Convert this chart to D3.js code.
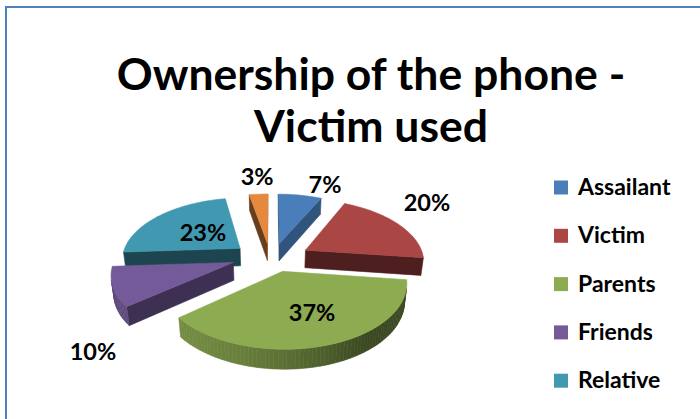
<!DOCTYPE html>
<html>
<head>
<meta charset="utf-8">
<script src="https://cdn.jsdelivr.net/npm/d3@7"></script>
<style>
  body { margin: 0; background: #fff; }
  svg { display: block; font-family: Lato, "Open Sans", sans-serif; }
</style>
</head>
<body>
<svg id="chart"></svg>
<script>
// chart values
let categories = ["Assailant", "Victim", "Parents", "Friends", "Relative", "Other"];
let values = [7, 20, 37, 10, 23, 3];
let titleLines = ["Ownership of the phone -", "Victim used"];

// look of the slices and where each label sits (degrees off the slice middle, times radius)
let colors = ["#4a7ebb", "#aa4744", "#8dab51", "#755a9a", "#4199b1", "#e5893f"];
let labelShift = [8.5, -5.1, -4.5, -24.4, -3.4, 0.3];
let labelRadius = [1.557, 1.848, 0.862, 1.747, 0.745, 1.663];

let width = 700, height = 419;
let pie3d = {cx: 271, cy: 257, r: 118, tilt: 31, dist: 650, explodeX: 40, explodeY: 28, depth: 21};

let svg = d3.select("#chart").attr("width", width).attr("height", height);

// chart area frame (only the top and left edges fall inside the picture)
svg.append("rect")
    .attr("x", 6).attr("y", 7)
    .attr("width", 740).attr("height", 460)
    .attr("fill", "none")
    .attr("stroke", "#4f81bd")
    .attr("stroke-width", 2);

svg.selectAll("text.title")
    .data(titleLines)
    .enter()
    .append("text")
    .attr("class", "title")
    .attr("x", 371)
    .attr("y", (d, i) => 90 + i * 52)
    .attr("text-anchor", "middle")
    .style("font-size", "44.5px")
    .style("font-weight", "bold")
    .text(d => d);

// simple perspective camera looking down at the pie
let sa = Math.sin(pie3d.tilt * Math.PI / 180),
    ca = Math.cos(pie3d.tilt * Math.PI / 180);
let camera = [0, -pie3d.dist * ca, pie3d.dist * sa];

function project(p) {
    let v = p[1] * sa + p[2] * ca,
        w = p[1] * ca - p[2] * sa,
        k = pie3d.dist / (pie3d.dist + w);
    return [pie3d.cx + p[0] * k, pie3d.cy - v * k];
}

function facing(normal, p) {
    return normal[0] * (camera[0] - p[0]) + normal[1] * (camera[1] - p[1]) + normal[2] * (camera[2] - p[2]) > 0;
}

function shade(color, f) {
    let c = d3.rgb(color);
    return d3.rgb(c.r * f, c.g * f, c.b * f).formatHex();
}

let wallLight = phi => 0.42 + 0.4 * Math.max(0, Math.cos(phi - 235 * Math.PI / 180));
let faceLight = phi => 0.45 + 0.25 * Math.pow(Math.max(0, Math.cos(phi - 100 * Math.PI / 180)), 4);

let arcs = d3.pie().sort(null).value(d => d)(values);

let slices = arcs.map(function (a, i) {
    let mid = (a.startAngle + a.endAngle) / 2;
    let ox = pie3d.explodeX * Math.sin(mid), oy = pie3d.explodeY * Math.cos(mid);
    let pt = (ang, r, z) => [ox + r * Math.sin(ang), oy + r * Math.cos(ang), z];
    let h = -pie3d.depth, R = pie3d.r;
    let faces = [];

    // radial faces
    [[a.startAngle, -Math.PI / 2], [a.endAngle, Math.PI / 2]].forEach(function (e) {
        let phi = e[0] + e[1];
        let quad = [pt(0, 0, 0), pt(e[0], R, 0), pt(e[0], R, h), pt(0, 0, h)];
        let c = pt(e[0], R / 2, h / 2);
        if (facing([Math.sin(phi), Math.cos(phi), 0], c)) {
            faces.push({pts: quad, fill: shade(colors[i], faceLight(phi))});
        }
    });

    // curved outer wall, in thin strips so the light can change along it
    let n = Math.max(2, Math.ceil((a.endAngle - a.startAngle) / 0.03));
    let step = (a.endAngle - a.startAngle) / n;
    for (let j = 0; j < n; j++) {
        let t0 = a.startAngle + j * step, t1 = t0 + step, phi = t0 + step / 2;
        if (facing([Math.sin(phi), Math.cos(phi), 0], pt(phi, R, h / 2))) {
            faces.push({pts: [pt(t0, R, 0), pt(t1, R, 0), pt(t1, R, h), pt(t0, R, h)],
                        fill: shade(colors[i], wallLight(phi))});
        }
    }

    // top face
    let top = [pt(0, 0, 0)];
    for (let j = 0; j <= n; j++) top.push(pt(a.startAngle + j * step, R, 0));
    faces.push({pts: top, fill: colors[i]});

    let lang = mid + labelShift[i] * Math.PI / 180;
    let label = project([labelRadius[i] * R * Math.sin(lang), labelRadius[i] * R * Math.cos(lang), 0]);
    let centroid = pt(mid, R * 0.6, 0);

    return {faces: faces, depth: centroid[1], label: label, text: values[i] + "%"};
});

// far slices first
let order = slices.slice().sort((a, b) => b.depth - a.depth);
let line = d3.line();

let pieGroup = svg.append("g");
order.forEach(function (s) {
    pieGroup.append("g")
        .selectAll("path")
        .data(s.faces)
        .enter()
        .append("path")
        .attr("d", d => line(d.pts.map(project)) + "Z")
        .attr("fill", d => d.fill)
        .attr("stroke", d => d.fill)
        .attr("stroke-width", 0.6)
        .attr("stroke-linejoin", "round");
});

svg.selectAll("text.value")
    .data(slices)
    .enter()
    .append("text")
    .attr("class", "value")
    .attr("x", d => d.label[0])
    .attr("y", d => d.label[1])
    .attr("dy", "0.36em")
    .attr("text-anchor", "middle")
    .style("font-size", "23.5px")
    .style("font-weight", "bold")
    .text(d => d.text);

// legend: the sixth entry falls below the picture, so only five are drawn
let legend = svg.selectAll("g.legend")
    .data(categories.slice(0, 5))
    .enter()
    .append("g")
    .attr("class", "legend")
    .attr("transform", (d, i) => "translate(554," + (187.5 + i * 48.3) + ")");

legend.append("rect")
    .attr("x", 0).attr("y", -7)
    .attr("width", 14).attr("height", 14)
    .attr("fill", (d, i) => colors[i]);

legend.append("text")
    .attr("x", 24)
    .attr("y", 7.5)
    .style("font-size", "23px")
    .style("font-weight", "bold")
    .text(d => d);
</script>
</body>
</html>
